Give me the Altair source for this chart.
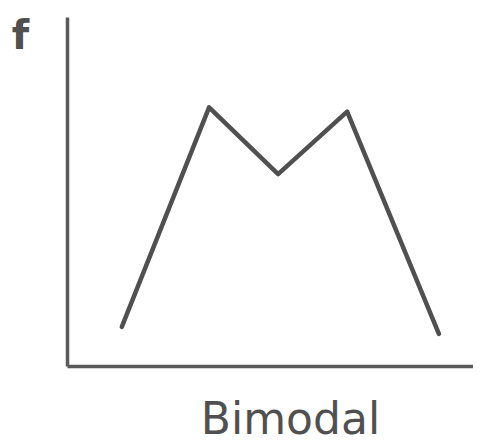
import altair as alt
import pandas as pd

xs = [13.5, 35.0, 52.0, 69.0, 91.6]
fs = [11.2, 74.1, 55.0, 72.9, 9.2]
x_title = "Bimodal"
y_title = "f"

df = pd.DataFrame({"x": xs, "f": fs})

chart = alt.Chart(df).mark_line(color="#505050", strokeWidth=4.5, strokeJoin="round", strokeCap="round").encode(
    x=alt.X("x:Q", scale=alt.Scale(domain=[0, 100]),
            axis=alt.Axis(title=x_title, ticks=False, labels=False, grid=False,
                          domainColor="#5a5a5a", domainWidth=3.5,
                          titleFont="DejaVu Sans", titleFontSize=44, titleFontWeight="normal",
                          titleColor="#505050", titleX=223, titleY=67, titleAlign="center",
                          titleBaseline="alphabetic")),
    y=alt.Y("f:Q", scale=alt.Scale(domain=[0, 100]),
            axis=alt.Axis(title=y_title, ticks=False, labels=False, grid=False,
                          domainColor="#5a5a5a", domainWidth=3.5,
                          titleFont="DejaVu Sans", titleFontSize=40, titleFontWeight="bold",
                          titleColor="#505050", titleAngle=0, titleX=-47, titleY=31,
                          titleAlign="center", titleBaseline="alphabetic")),
).properties(
    width=406, height=349,
    autosize=alt.AutoSizeParams(type="none"),
    padding={"left": 59, "top": 9, "right": 0, "bottom": 78},
).configure_view(stroke=None)

chart.save("out.html", embed_options={"renderer": "svg", "actions": False})
